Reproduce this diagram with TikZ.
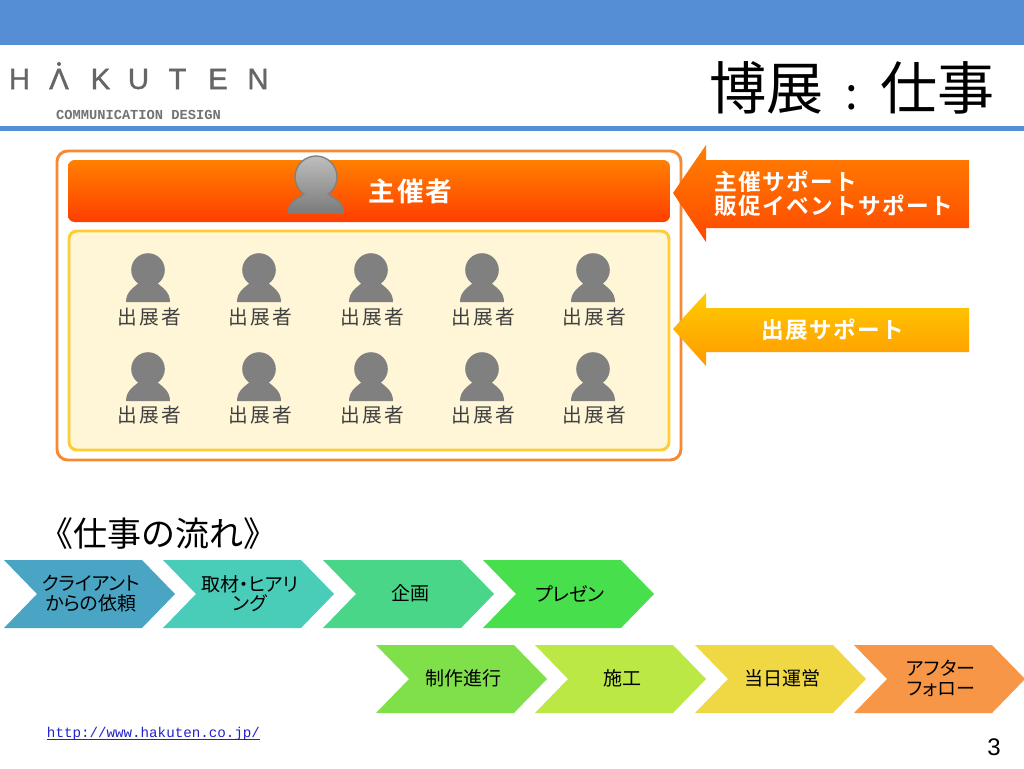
\documentclass[tikz,border=0pt]{standalone}
\usepackage{fontspec}
\setmainfont{Liberation Sans}
\newfontfamily\logofont[FakeBold=1.2]{Liberation Sans}
\newfontfamily\jp{Noto Sans CJK JP}
\newfontfamily\jpp[RawFeature=+palt]{Noto Sans CJK JP}
\newfontfamily\jpsA[LetterSpace=12]{Noto Sans CJK JP}
\newfontfamily\jpsB[LetterSpace=6,BoldFont={Noto Sans CJK JP Bold}]{Noto Sans CJK JP}
\newfontfamily\mono{Liberation Mono}
\definecolor{band}{HTML}{558ED5}
\definecolor{frameor}{HTML}{F58A33}
\definecolor{panelfill}{HTML}{FFF6D8}
\definecolor{panelline}{HTML}{FFCC33}
\definecolor{logogray}{HTML}{666666}
\definecolor{linkblue}{HTML}{2222CC}
\definecolor{ortop}{HTML}{FF8000}
\definecolor{orbot}{HTML}{FF3E00}
\definecolor{arrbot}{HTML}{FF4800}
\definecolor{yeltop}{HTML}{FFCC00}
\definecolor{yelbot}{HTML}{FF9900}
\definecolor{cha}{HTML}{4AA5C4}
\definecolor{chb}{HTML}{4ACDB8}
\definecolor{chc}{HTML}{4AD688}
\definecolor{chd}{HTML}{48DF4C}
\definecolor{che}{HTML}{7FE04A}
\definecolor{chf}{HTML}{BBE845}
\definecolor{chg}{HTML}{F0D845}
\definecolor{chh}{HTML}{F79646}
\tikzset{
  x=0.75pt,y=-0.75pt,
  lbl/.style={inner sep=0pt,align=center,font=\jpp\fontsize{14.25}{14.5}\selectfont,text=black},
  exlbl/.style={inner sep=0pt,font=\jpsA\fontsize{14.8}{16}\selectfont,text=black!75},
  wlbl/.style={inner sep=0pt,align=left,text=white,font=\jpsB\bfseries\fontsize{17}{18}\selectfont},
  logolet/.style={inner sep=0pt,text=logogray,font=\logofont\fontsize{22}{24}\selectfont},
}
% name x y(top) colour text
\newcommand\chev[5]{%
  \fill[#4] (#2,#3) -- ({#2+138},#3) -- ({#2+171},{#3+34}) -- ({#2+138},{#3+68}) -- (#2,{#3+68}) -- ({#2+33},{#3+34}) -- cycle;
  \node[lbl] (#1) at ({#2+87},{#3+33.5}) {#5};}
% x-centre, bottom
\newcommand\persona[2]{%
  \fill[black!50] ({#1-22},#2) .. controls ({#1-22},{#2-10}) and ({#1-15},{#2-14}) .. ({#1-8},{#2-20}) -- ({#1+8},{#2-20}) .. controls ({#1+15},{#2-14}) and ({#1+22},{#2-10}) .. ({#1+22},#2) -- cycle;
  \fill[black!50] (#1,{#2-32}) circle[radius=16.8];}
\begin{document}
\begin{tikzpicture}
\useasboundingbox (0,0) rectangle (1024,768);
\fill[white] (0,0) rectangle (1024,768);
% header
\fill[band] (0,0) rectangle (1024,45);
\fill[band] (0,126) rectangle (1024,131);
% logo
\node[logolet] (lh) at (19.5,79) {H};
\node[logolet] (la) at (59,79) {Λ};
\fill[logogray] (59,64) circle[radius=2];
\node[logolet] (lk) at (100.5,79) {K};
\node[logolet] (lu) at (138.5,79) {U};
\node[logolet] (lt) at (177.5,79) {T};
\node[logolet] (le) at (218,79) {E};
\node[logolet] (ln) at (258,79) {N};
\node[inner sep=0pt,text=black!55,font=\mono\bfseries\fontsize{10.3}{12}\selectfont] (lsub) at (138.5,114.5) {COMMUNICATION DESIGN};
% title
\node[inner sep=0pt,font=\jp\fontsize{42.8}{46}\selectfont] (title) at (852,88) {博展\makebox[42.8pt][c]{\fontsize{34}{36}\selectfont :}仕事};
% frame
\draw[frameor,line width=2.2pt,rounded corners=8pt,fill=white] (57,151) rectangle (681,460);
\shade[top color=ortop,bottom color=orbot,rounded corners=5pt] (68,160) rectangle (670,222);
\draw[panelline,line width=2.2pt,fill=panelfill,rounded corners=6pt] (69,231) rectangle (669,450);
% organiser
\shade[top color=black!24,bottom color=black!52,draw=black!50,line width=1pt]
 (288,213) .. controls (289,201) and (297,199) .. (304,194.2) arc[start angle=125,end angle=415,radius=21] .. controls (335,199) and (343,201) .. (343,213) -- cycle;
\node[inner sep=0pt,text=white,font=\jpsB\bfseries\fontsize{20}{22}\selectfont] (org) at (410.5,191) {主催者};
% exhibitors
\foreach \cx [count=\i] in {148,259,371,482,593}{
  \persona{\cx}{302}
  \node[exlbl] (exa\i) at (\cx+1,317) {出展者};
  \persona{\cx}{401}
  \node[exlbl] (exb\i) at (\cx+1,415) {出展者};
}
% arrows
\shade[top color=ortop,bottom color=arrbot]
 (673,193) -- (706,145) -- (706,160) -- (969,160) -- (969,228) -- (706,228) -- (706,242) -- cycle;
\node[wlbl] (sup1) at (833.5,194) {主催サポート\\販促イベントサポート};
\shade[top color=yeltop,bottom color=yelbot]
 (673,329) -- (706,293) -- (706,308) -- (969,308) -- (969,352) -- (706,352) -- (706,366) -- cycle;
\node[wlbl] (sup2) at (832.5,330) {出展サポート};
% flow
\node[inner sep=0pt,font=\jp\fontsize{25.5}{28}\selectfont] (flow) at (158,534) {《仕事の流れ》};
\chev{c1}{4}{560}{cha}{クライアント\\からの依頼}
\chev{c2}{163}{560}{chb}{取材・ヒアリ\\ング}
\chev{c3}{323}{560}{chc}{企画}
\chev{c4}{483}{560}{chd}{プレゼン}
\chev{c5}{376}{645}{che}{制作進行}
\chev{c6}{535}{645}{chf}{施工}
\chev{c7}{695}{645}{chg}{当日運営}
\chev{c8}{854}{645}{chh}{アフター\\フォロー}
% footer
\node[anchor=base,inner sep=0pt,text=linkblue,font=\mono\fontsize{10.65}{12}\selectfont] (url) at (153.5,737) {http://www.hakuten.co.jp/};
\draw[linkblue,line width=0.6pt] ([yshift=-1.6pt]url.base west) -- ([yshift=-1.6pt]url.base east);
\node[inner sep=0pt,font=\fontsize{18}{20}\selectfont] (page) at (994,747) {3};
\end{tikzpicture}
\end{document}
